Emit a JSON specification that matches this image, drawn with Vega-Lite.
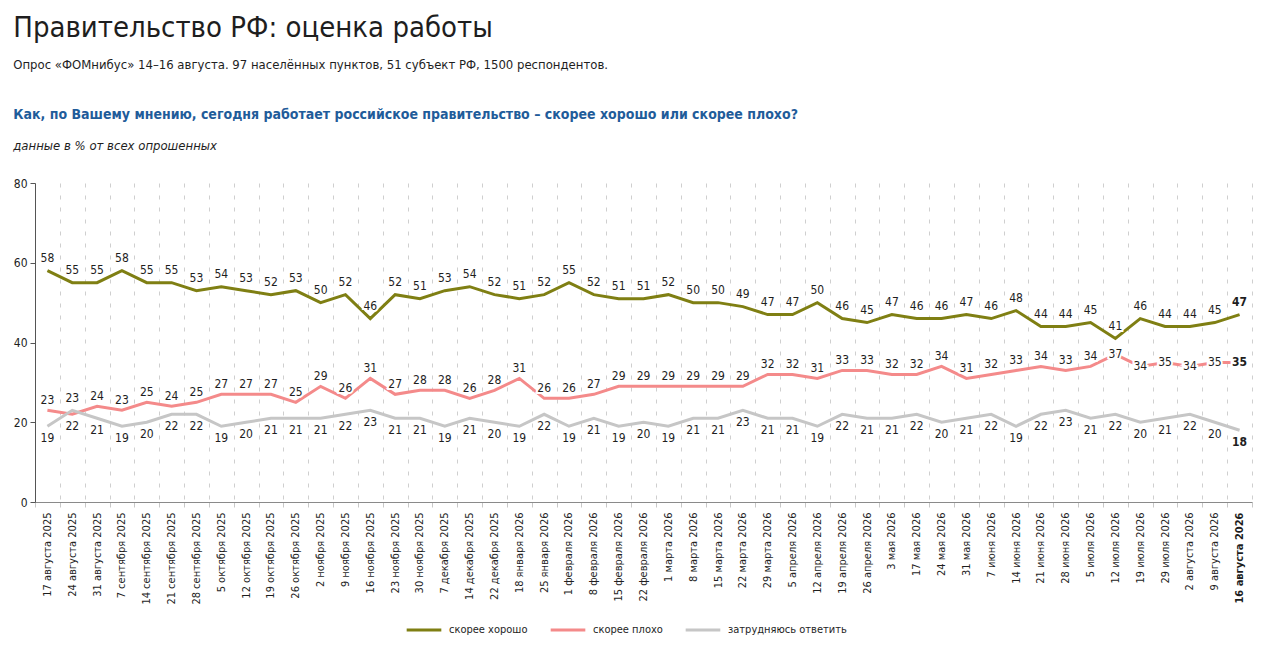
{
  "$schema": "https://vega.github.io/schema/vega-lite/v6.json",
  "background": "white",
  "padding": {"left": 13, "top": 14, "right": 10, "bottom": 0},
  "config": {
    "font": "DejaVu Sans Condensed, Liberation Sans Narrow, sans-serif",
    "view": {"stroke": null},
    "concat": {"spacing": 0}
  },
  "title": {
    "text": "Правительство РФ: оценка работы",
    "subtitle": "Опрос «ФОМнибус» 14–16 августа. 97 населённых пунктов, 51 субъект РФ, 1500 респондентов.",
    "anchor": "start",
    "frame": "bounds",
    "fontSize": 29,
    "fontWeight": "normal",
    "color": "#1e1e1e",
    "subtitleFontSize": 13,
    "subtitleColor": "#1e1e1e",
    "subtitlePadding": 16,
    "offset": 36
  },
  "vconcat": [
    {
      "width": 1217,
      "height": 319,
      "title": {
        "text": "Как, по Вашему мнению, сегодня работает российское правительство – скорее хорошо или скорее плохо?",
        "subtitle": "данные в % от всех опрошенных",
        "anchor": "start",
        "frame": "bounds",
        "fontSize": 14,
        "fontWeight": "bold",
        "color": "#1f5c9a",
        "subtitleFontSize": 13,
        "subtitleFontStyle": "italic",
        "subtitleColor": "#1e1e1e",
        "subtitlePadding": 18,
        "offset": 24
      },
      "data": {
        "values": [
          {"date": "17 августа 2025", "series": "скорее хорошо", "value": 58},
          {"date": "24 августа 2025", "series": "скорее хорошо", "value": 55},
          {"date": "31 августа 2025", "series": "скорее хорошо", "value": 55},
          {"date": "7 сентября 2025", "series": "скорее хорошо", "value": 58},
          {"date": "14 сентября 2025", "series": "скорее хорошо", "value": 55},
          {"date": "21 сентября 2025", "series": "скорее хорошо", "value": 55},
          {"date": "28 сентября 2025", "series": "скорее хорошо", "value": 53},
          {"date": "5 октября 2025", "series": "скорее хорошо", "value": 54},
          {"date": "12 октября 2025", "series": "скорее хорошо", "value": 53},
          {"date": "19 октября 2025", "series": "скорее хорошо", "value": 52},
          {"date": "26 октября 2025", "series": "скорее хорошо", "value": 53},
          {"date": "2 ноября 2025", "series": "скорее хорошо", "value": 50},
          {"date": "9 ноября 2025", "series": "скорее хорошо", "value": 52},
          {"date": "16 ноября 2025", "series": "скорее хорошо", "value": 46},
          {"date": "23 ноября 2025", "series": "скорее хорошо", "value": 52},
          {"date": "30 ноября 2025", "series": "скорее хорошо", "value": 51},
          {"date": "7 декабря 2025", "series": "скорее хорошо", "value": 53},
          {"date": "14 декабря 2025", "series": "скорее хорошо", "value": 54},
          {"date": "22 декабря 2025", "series": "скорее хорошо", "value": 52},
          {"date": "18 января 2026", "series": "скорее хорошо", "value": 51},
          {"date": "25 января 2026", "series": "скорее хорошо", "value": 52},
          {"date": "1 февраля 2026", "series": "скорее хорошо", "value": 55},
          {"date": "8 февраля 2026", "series": "скорее хорошо", "value": 52},
          {"date": "15 февраля 2026", "series": "скорее хорошо", "value": 51},
          {"date": "22 февраля 2026", "series": "скорее хорошо", "value": 51},
          {"date": "1 марта 2026", "series": "скорее хорошо", "value": 52},
          {"date": "8 марта 2026", "series": "скорее хорошо", "value": 50},
          {"date": "15 марта 2026", "series": "скорее хорошо", "value": 50},
          {"date": "22 марта 2026", "series": "скорее хорошо", "value": 49},
          {"date": "29 марта 2026", "series": "скорее хорошо", "value": 47},
          {"date": "5 апреля 2026", "series": "скорее хорошо", "value": 47},
          {"date": "12 апреля 2026", "series": "скорее хорошо", "value": 50},
          {"date": "19 апреля 2026", "series": "скорее хорошо", "value": 46},
          {"date": "26 апреля 2026", "series": "скорее хорошо", "value": 45},
          {"date": "3 мая 2026", "series": "скорее хорошо", "value": 47},
          {"date": "17 мая 2026", "series": "скорее хорошо", "value": 46},
          {"date": "24 мая 2026", "series": "скорее хорошо", "value": 46},
          {"date": "31 мая 2026", "series": "скорее хорошо", "value": 47},
          {"date": "7 июня 2026", "series": "скорее хорошо", "value": 46},
          {"date": "14 июня 2026", "series": "скорее хорошо", "value": 48},
          {"date": "21 июня 2026", "series": "скорее хорошо", "value": 44},
          {"date": "28 июня 2026", "series": "скорее хорошо", "value": 44},
          {"date": "5 июля 2026", "series": "скорее хорошо", "value": 45},
          {"date": "12 июля 2026", "series": "скорее хорошо", "value": 41},
          {"date": "19 июля 2026", "series": "скорее хорошо", "value": 46},
          {"date": "29 июля 2026", "series": "скорее хорошо", "value": 44},
          {"date": "2 августа 2026", "series": "скорее хорошо", "value": 44},
          {"date": "9 августа 2026", "series": "скорее хорошо", "value": 45},
          {"date": "16 августа 2026", "series": "скорее хорошо", "value": 47},
          {"date": "17 августа 2025", "series": "скорее плохо", "value": 23},
          {"date": "24 августа 2025", "series": "скорее плохо", "value": 22},
          {"date": "31 августа 2025", "series": "скорее плохо", "value": 24},
          {"date": "7 сентября 2025", "series": "скорее плохо", "value": 23},
          {"date": "14 сентября 2025", "series": "скорее плохо", "value": 25},
          {"date": "21 сентября 2025", "series": "скорее плохо", "value": 24},
          {"date": "28 сентября 2025", "series": "скорее плохо", "value": 25},
          {"date": "5 октября 2025", "series": "скорее плохо", "value": 27},
          {"date": "12 октября 2025", "series": "скорее плохо", "value": 27},
          {"date": "19 октября 2025", "series": "скорее плохо", "value": 27},
          {"date": "26 октября 2025", "series": "скорее плохо", "value": 25},
          {"date": "2 ноября 2025", "series": "скорее плохо", "value": 29},
          {"date": "9 ноября 2025", "series": "скорее плохо", "value": 26},
          {"date": "16 ноября 2025", "series": "скорее плохо", "value": 31},
          {"date": "23 ноября 2025", "series": "скорее плохо", "value": 27},
          {"date": "30 ноября 2025", "series": "скорее плохо", "value": 28},
          {"date": "7 декабря 2025", "series": "скорее плохо", "value": 28},
          {"date": "14 декабря 2025", "series": "скорее плохо", "value": 26},
          {"date": "22 декабря 2025", "series": "скорее плохо", "value": 28},
          {"date": "18 января 2026", "series": "скорее плохо", "value": 31},
          {"date": "25 января 2026", "series": "скорее плохо", "value": 26},
          {"date": "1 февраля 2026", "series": "скорее плохо", "value": 26},
          {"date": "8 февраля 2026", "series": "скорее плохо", "value": 27},
          {"date": "15 февраля 2026", "series": "скорее плохо", "value": 29},
          {"date": "22 февраля 2026", "series": "скорее плохо", "value": 29},
          {"date": "1 марта 2026", "series": "скорее плохо", "value": 29},
          {"date": "8 марта 2026", "series": "скорее плохо", "value": 29},
          {"date": "15 марта 2026", "series": "скорее плохо", "value": 29},
          {"date": "22 марта 2026", "series": "скорее плохо", "value": 29},
          {"date": "29 марта 2026", "series": "скорее плохо", "value": 32},
          {"date": "5 апреля 2026", "series": "скорее плохо", "value": 32},
          {"date": "12 апреля 2026", "series": "скорее плохо", "value": 31},
          {"date": "19 апреля 2026", "series": "скорее плохо", "value": 33},
          {"date": "26 апреля 2026", "series": "скорее плохо", "value": 33},
          {"date": "3 мая 2026", "series": "скорее плохо", "value": 32},
          {"date": "17 мая 2026", "series": "скорее плохо", "value": 32},
          {"date": "24 мая 2026", "series": "скорее плохо", "value": 34},
          {"date": "31 мая 2026", "series": "скорее плохо", "value": 31},
          {"date": "7 июня 2026", "series": "скорее плохо", "value": 32},
          {"date": "14 июня 2026", "series": "скорее плохо", "value": 33},
          {"date": "21 июня 2026", "series": "скорее плохо", "value": 34},
          {"date": "28 июня 2026", "series": "скорее плохо", "value": 33},
          {"date": "5 июля 2026", "series": "скорее плохо", "value": 34},
          {"date": "12 июля 2026", "series": "скорее плохо", "value": 37},
          {"date": "19 июля 2026", "series": "скорее плохо", "value": 34},
          {"date": "29 июля 2026", "series": "скорее плохо", "value": 35},
          {"date": "2 августа 2026", "series": "скорее плохо", "value": 34},
          {"date": "9 августа 2026", "series": "скорее плохо", "value": 35},
          {"date": "16 августа 2026", "series": "скорее плохо", "value": 35},
          {"date": "17 августа 2025", "series": "затрудняюсь ответить", "value": 19},
          {"date": "24 августа 2025", "series": "затрудняюсь ответить", "value": 23},
          {"date": "31 августа 2025", "series": "затрудняюсь ответить", "value": 21},
          {"date": "7 сентября 2025", "series": "затрудняюсь ответить", "value": 19},
          {"date": "14 сентября 2025", "series": "затрудняюсь ответить", "value": 20},
          {"date": "21 сентября 2025", "series": "затрудняюсь ответить", "value": 22},
          {"date": "28 сентября 2025", "series": "затрудняюсь ответить", "value": 22},
          {"date": "5 октября 2025", "series": "затрудняюсь ответить", "value": 19},
          {"date": "12 октября 2025", "series": "затрудняюсь ответить", "value": 20},
          {"date": "19 октября 2025", "series": "затрудняюсь ответить", "value": 21},
          {"date": "26 октября 2025", "series": "затрудняюсь ответить", "value": 21},
          {"date": "2 ноября 2025", "series": "затрудняюсь ответить", "value": 21},
          {"date": "9 ноября 2025", "series": "затрудняюсь ответить", "value": 22},
          {"date": "16 ноября 2025", "series": "затрудняюсь ответить", "value": 23},
          {"date": "23 ноября 2025", "series": "затрудняюсь ответить", "value": 21},
          {"date": "30 ноября 2025", "series": "затрудняюсь ответить", "value": 21},
          {"date": "7 декабря 2025", "series": "затрудняюсь ответить", "value": 19},
          {"date": "14 декабря 2025", "series": "затрудняюсь ответить", "value": 21},
          {"date": "22 декабря 2025", "series": "затрудняюсь ответить", "value": 20},
          {"date": "18 января 2026", "series": "затрудняюсь ответить", "value": 19},
          {"date": "25 января 2026", "series": "затрудняюсь ответить", "value": 22},
          {"date": "1 февраля 2026", "series": "затрудняюсь ответить", "value": 19},
          {"date": "8 февраля 2026", "series": "затрудняюсь ответить", "value": 21},
          {"date": "15 февраля 2026", "series": "затрудняюсь ответить", "value": 19},
          {"date": "22 февраля 2026", "series": "затрудняюсь ответить", "value": 20},
          {"date": "1 марта 2026", "series": "затрудняюсь ответить", "value": 19},
          {"date": "8 марта 2026", "series": "затрудняюсь ответить", "value": 21},
          {"date": "15 марта 2026", "series": "затрудняюсь ответить", "value": 21},
          {"date": "22 марта 2026", "series": "затрудняюсь ответить", "value": 23},
          {"date": "29 марта 2026", "series": "затрудняюсь ответить", "value": 21},
          {"date": "5 апреля 2026", "series": "затрудняюсь ответить", "value": 21},
          {"date": "12 апреля 2026", "series": "затрудняюсь ответить", "value": 19},
          {"date": "19 апреля 2026", "series": "затрудняюсь ответить", "value": 22},
          {"date": "26 апреля 2026", "series": "затрудняюсь ответить", "value": 21},
          {"date": "3 мая 2026", "series": "затрудняюсь ответить", "value": 21},
          {"date": "17 мая 2026", "series": "затрудняюсь ответить", "value": 22},
          {"date": "24 мая 2026", "series": "затрудняюсь ответить", "value": 20},
          {"date": "31 мая 2026", "series": "затрудняюсь ответить", "value": 21},
          {"date": "7 июня 2026", "series": "затрудняюсь ответить", "value": 22},
          {"date": "14 июня 2026", "series": "затрудняюсь ответить", "value": 19},
          {"date": "21 июня 2026", "series": "затрудняюсь ответить", "value": 22},
          {"date": "28 июня 2026", "series": "затрудняюсь ответить", "value": 23},
          {"date": "5 июля 2026", "series": "затрудняюсь ответить", "value": 21},
          {"date": "12 июля 2026", "series": "затрудняюсь ответить", "value": 22},
          {"date": "19 июля 2026", "series": "затрудняюсь ответить", "value": 20},
          {"date": "29 июля 2026", "series": "затрудняюсь ответить", "value": 21},
          {"date": "2 августа 2026", "series": "затрудняюсь ответить", "value": 22},
          {"date": "9 августа 2026", "series": "затрудняюсь ответить", "value": 20},
          {"date": "16 августа 2026", "series": "затрудняюсь ответить", "value": 18}
        ]
      },
      "encoding": {
        "x": {
          "field": "date",
          "type": "ordinal",
          "sort": null,
          "bandPosition": 0.5,
          "scale": {"type": "band", "paddingInner": 0, "paddingOuter": 0},
          "axis": {
            "title": null,
            "labelAngle": -90,
            "labelFontSize": 11,
            "labelColor": "#1e1e1e",
            "labelPadding": 5,
            "labelFontWeight": {"condition": {"test": "datum.value === '16 августа 2026'", "value": "bold"}, "value": "normal"},
            "tickBand": "extent",
            "tickSize": 5,
            "tickColor": "#c8c8c8",
            "domainColor": "#8a8a8a",
            "grid": true,
            "gridDash": [4, 8],
            "gridColor": "#cfcfcf",
            "gridWidth": 1
          }
        },
        "y": {
          "field": "value",
          "type": "quantitative",
          "scale": {"domain": [0, 80]},
          "axis": {
            "title": null,
            "values": [0, 20, 40, 60, 80],
            "grid": false,
            "labelFontSize": 12,
            "labelColor": "#1e1e1e",
            "domainColor": "#555555",
            "tickColor": "#555555",
            "tickSize": 5,
            "labelPadding": 3
          }
        }
      },
      "layer": [
        {
          "mark": {"type": "line", "strokeWidth": 3},
          "encoding": {
            "color": {
              "field": "series",
              "type": "nominal",
              "scale": {
                "domain": ["скорее хорошо", "скорее плохо", "затрудняюсь ответить"],
                "range": ["#7f7f13", "#f48a8a", "#c6c6c6"]
              },
              "legend": {
                "title": null,
                "orient": "none",
                "legendX": 370,
                "legendY": 428,
                "direction": "horizontal",
                "symbolType": "stroke",
                "symbolSize": 1200,
                "symbolStrokeWidth": 3,
                "labelFontSize": 11,
                "labelColor": "#1e1e1e",
                "labelOffset": 6,
                "columnPadding": 16
              }
            }
          }
        },
        {
          "mark": {
            "type": "text",
            "fontSize": 12,
            "fill": "white",
            "stroke": "white",
            "strokeWidth": 4,
            "dy": {"expr": "datum.series === 'скорее хорошо' ? -13 : datum.series === 'скорее плохо' ? (datum.date === '24 августа 2025' ? 12 : (indexof(['12 июля 2026','19 июля 2026','29 июля 2026','2 августа 2026','9 августа 2026','16 августа 2026'], datum.date) >= 0 ? 0 : -10)) : (datum.date === '24 августа 2025' ? -12 : 12)"},
            "fontWeight": {"expr": "datum.date === '16 августа 2026' ? 'bold' : 'normal'"}
          },
          "encoding": {"text": {"field": "value", "type": "quantitative"}}
        },
        {
          "mark": {
            "type": "text",
            "fontSize": 12,
            "fill": "#1e1e1e",
            "dy": {"expr": "datum.series === 'скорее хорошо' ? -13 : datum.series === 'скорее плохо' ? (datum.date === '24 августа 2025' ? 12 : (indexof(['12 июля 2026','19 июля 2026','29 июля 2026','2 августа 2026','9 августа 2026','16 августа 2026'], datum.date) >= 0 ? 0 : -10)) : (datum.date === '24 августа 2025' ? -12 : 12)"},
            "fontWeight": {"expr": "datum.date === '16 августа 2026' ? 'bold' : 'normal'"}
          },
          "encoding": {"text": {"field": "value", "type": "quantitative"}}
        }
      ]
    }
  ]
}
